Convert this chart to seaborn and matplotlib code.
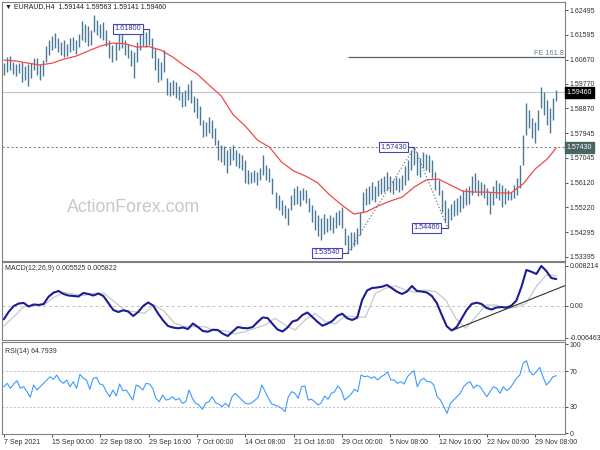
import numpy as np
import matplotlib
matplotlib.use("Agg")
import matplotlib.pyplot as plt
import seaborn as sns

# EURAUD H4 chart, drawn as 8h bars. Prices in pips: 16054 -> 1.6054
highs = [
    16054, 16077, 16080, 16058, 16051, 16054, 16058, 16043, 16051, 16054,
    16073, 16073, 16051, 16065, 16117, 16139, 16154, 16165, 16147, 16132,
    16139, 16125, 16147, 16150, 16139, 16161, 16209, 16198, 16191, 16176,
    16232, 16213, 16198, 16206, 16176, 16139, 16121, 16132, 16169, 16161,
    16139, 16125, 16102, 16095, 16132, 16161, 16173, 16169, 16180, 16147,
    16110, 16073, 16058, 16102, 15999, 15984, 15992, 15984, 15970, 15947,
    15955, 15977, 15992, 15933, 15925, 15896, 15844, 15837, 15855, 15844,
    15815, 15770, 15752, 15748, 15733, 15741, 15752, 15733, 15722, 15715,
    15697, 15660, 15652, 15660, 15652, 15667, 15715, 15678, 15667, 15630,
    15578, 15567, 15549, 15530, 15519, 15567, 15593, 15601, 15586, 15593,
    15586, 15556, 15530, 15512, 15494, 15482, 15497, 15482, 15494, 15486,
    15505, 15512, 15523, 15446, 15420, 15431, 15431, 15446, 15505, 15578,
    15593, 15601, 15615, 15601, 15623, 15630, 15638, 15652, 15638, 15623,
    15634, 15630, 15641, 15674, 15697, 15733, 15743, 15726, 15704, 15726,
    15719, 15715, 15697, 15652, 15623, 15586, 15549, 15519, 15534, 15549,
    15556, 15567, 15586, 15593, 15601, 15638, 15649, 15623, 15615, 15608,
    15593, 15578, 15601, 15623, 15612, 15604, 15593, 15586, 15578, 15604,
    15630, 15678, 15789, 15907, 15881, 15852, 15837, 15881, 15966, 15947,
    15918, 15888, 15925, 15956]
lows = [
    16010, 16021, 16029, 16014, 16006, 16018, 15984, 15992, 15970, 15999,
    16029, 16010, 15992, 16006, 16058, 16084, 16102, 16110, 16095, 16084,
    16077, 16080, 16095, 16102, 16088, 16113, 16139, 16132, 16117, 16121,
    16169, 16158, 16147, 16139, 16117, 16073, 16058, 16065, 16102, 16110,
    16084, 16073, 16043, 15999, 16058, 16102, 16117, 16113, 16121, 16073,
    16029, 15984, 15992, 16021, 15936, 15933, 15936, 15925, 15918, 15892,
    15896, 15918, 15907, 15874, 15852, 15826, 15781, 15785, 15796, 15778,
    15752, 15697, 15689, 15678, 15649, 15678, 15697, 15674, 15667, 15660,
    15612, 15608, 15612, 15615, 15604, 15623, 15641, 15623, 15615, 15571,
    15519, 15512, 15494, 15482, 15457, 15512, 15530, 15534, 15527, 15549,
    15538, 15505, 15468, 15438, 15416, 15401, 15423, 15431, 15438, 15427,
    15446, 15457, 15446, 15383, 15354, 15364, 15379, 15387, 15420, 15505,
    15530, 15534, 15549, 15542, 15564, 15571, 15578, 15586, 15578, 15571,
    15586, 15578, 15586, 15604, 15623, 15660, 15678, 15641, 15634, 15667,
    15660, 15652, 15630, 15586, 15567, 15505, 15468, 15446, 15475, 15490,
    15494, 15505, 15519, 15530, 15534, 15567, 15578, 15564, 15567, 15556,
    15530, 15497, 15530, 15556, 15549, 15523, 15534, 15549, 15549, 15556,
    15567, 15593, 15678, 15789, 15815, 15778, 15759, 15807, 15888, 15863,
    15826, 15796, 15844, 15914]

# moving average
ma_bars = list(range(0, 181, 4)) + [183]
ma_pips = [16065, 16062, 16054, 16047, 16054, 16069, 16080, 16099, 16117, 16128,
           16126, 16113, 16115, 16102, 16076, 16043, 16014, 15973, 15933, 15863,
           15822, 15770, 15744, 15689, 15656, 15637, 15612, 15567, 15530, 15497,
           15505, 15527, 15545, 15560, 15597, 15623, 15626, 15604, 15582, 15578,
           15578, 15575, 15575, 15608, 15663, 15700, 15741]

macd_main = [
    -0.00273, -0.00117, 0.0, 0.00051, 0.00062, -0.0001, 0.00031, 0.00021, 0.00041, 0.00191,
    0.00273, 0.00308, 0.00246, 0.00215, 0.00205, 0.00195, 0.00267, 0.00246, 0.00215, 0.00256,
    0.00205, 0.00062, -0.00082, -0.00123, -0.00088, -0.00113, -0.00205, -0.00123, 0.0, 0.00072,
    0.0001, -0.00154, -0.00297, -0.0041, -0.00441, -0.00457, -0.00441, -0.00472, -0.00359, -0.00431,
    -0.00513, -0.00527, -0.00486, -0.00492, -0.00568, -0.00615, -0.00523, -0.00431, -0.00451, -0.00457,
    -0.00431, -0.00328, -0.00236, -0.00246, -0.00369, -0.00482, -0.00523, -0.00441, -0.00318, -0.00287,
    -0.00185, -0.00133, -0.00226, -0.00322, -0.00404, -0.00363, -0.00308, -0.00205, -0.00158, -0.00252,
    -0.00287, -0.0024, 0.00123, 0.00318, 0.00369, 0.00379, 0.00396, 0.00431, 0.00363, 0.00293,
    0.00246, 0.00297, 0.0041, 0.00308, 0.00297, 0.00277, 0.00205, 0.00062, -0.00185, -0.00416,
    -0.00502, -0.00431, -0.00256, -0.00082, 0.00041, 0.00068, 0.00041, -0.00041, -0.00072, -0.00031,
    -0.00021, -0.00035, 0.0001, 0.00113, 0.0039, 0.00738, 0.00703, 0.00656, 0.0082, 0.00718,
    0.00574, 0.00553]
macd_signal = [
    -0.0041, -0.00219, -0.00014, 0.00021, 0.00021, 0.00178, 0.00281, 0.0024, 0.00219, 0.0026,
    0.0026, 0.00088, -0.00082, -0.00117, -0.0015, 0.00021, -0.00117, -0.00355, -0.00424, -0.00424,
    -0.00424, -0.00506, -0.00506, -0.00574, -0.00527, -0.00457, -0.0039, -0.00252, -0.0039, -0.00492,
    -0.00287, -0.0015, -0.00322, -0.00369, -0.00205, -0.00219, -0.00232, 0.0026, 0.00363, 0.0041,
    0.00328, 0.00281, 0.00328, 0.00293, 0.00123, -0.00252, -0.00457, -0.00219, 0.00021, 0.00021,
    -0.00047, -0.00027, 0.00055, 0.00396, 0.00636, 0.0062]

rsi_vals = [
    52.4, 56.2, 50.6, 55.4, 59.1, 50.6, 52.4, 46.8, 40.5, 54.3,
    48.7, 52.4, 56.2, 59.9, 63.6, 60.7, 65.5, 59.1, 56.2, 59.9,
    52.4, 58.0, 50.6, 66.3, 61.8, 59.9, 49.5, 61.8, 62.9, 55.4,
    54.3, 46.8, 41.2, 48.7, 42.0, 55.4, 47.9, 48.7, 43.1, 37.5,
    54.3, 52.4, 48.7, 56.2, 55.4, 50.6, 39.4, 35.6, 43.1, 37.5,
    38.3, 41.2, 37.5, 39.4, 33.8, 35.6, 48.7, 39.4, 33.8, 31.9,
    27.1, 33.8, 35.6, 41.2, 34.5, 33.0, 30.0, 33.8, 30.0, 41.2,
    45.0, 41.2, 37.5, 33.8, 33.0, 34.5, 37.5, 41.2, 54.3, 46.8,
    39.4, 33.0, 31.9, 30.0, 28.2, 24.4, 41.2,
    46.8, 45.0, 39.4, 52.4, 53.2, 37.5, 38.3, 35.6, 31.9, 34.5,
    42.0, 38.3, 45.0, 46.8, 53.2, 48.7, 37.5, 40.5, 44.2, 49.5,
    46.8, 65.5, 63.6, 64.4, 61.8, 63.6, 59.9, 63.6, 65.5, 69.2,
    59.9, 59.9, 56.2, 58.0, 55.4, 63.6, 67.4, 70.3, 52.4, 59.9,
    61.8, 58.0, 58.0, 54.3, 41.2, 37.5, 30.0, 22.6, 33.8, 37.5,
    41.2, 45.0, 52.4, 56.2, 58.0, 50.6, 54.3, 52.4, 46.8, 41.2,
    46.8, 52.4, 50.6, 45.0, 52.4, 47.9, 50.6, 56.2, 61.8, 65.5,
    78.6, 81.5, 69.2, 65.5, 69.2, 74.1, 63.6, 54.3, 58.0, 63.6, 64.8]

price_ticks = [1.62495, 1.61595, 1.60670, 1.59770, 1.58870, 1.57945,
               1.57045, 1.56120, 1.55220, 1.54295, 1.53395]
date_labels = ['7 Sep 2021', '15 Sep 00:00', '22 Sep 08:00', '29 Sep 16:00',
               '7 Oct 00:00', '14 Oct 08:00', '21 Oct 16:00', '29 Oct 00:00',
               '5 Nov 08:00', '12 Nov 16:00', '22 Nov 00:00', '29 Nov 08:00']

# swing points labelled on the chart (bar index, price)
swings = [(48, 1.61800), (114, 1.53540), (136, 1.57430), (147, 1.54460)]
zigzag_bars = [114, 136, 147]
zigzag_prices = [1.53540, 1.57430, 1.54460]
fe_level = 1.6075
last_close = 1.59460
support = 1.57430
macd_trend_bars = [149, 186]
macd_trend_vals = [-0.0049, 0.0042]

sns.set_style("white")
plt.rcParams['font.family'] = ['Liberation Sans', 'DejaVu Sans']
plt.rcParams['axes.edgecolor'] = '#808080'
plt.rcParams['axes.linewidth'] = 0.8

W, H = 600, 450
fig = plt.figure(figsize=(6, 4.5), dpi=100)


def panel(top, bottom):
    return fig.add_axes([2 / W, 1 - bottom / H, 563 / W, (bottom - top) / H])


ax = panel(2, 261)
ax_macd = panel(262, 340)
ax_rsi = panel(342, 434)
xlim = (-0.6, 185.9)
txt_col = '#303030'

# ---- price panel
idx = np.arange(len(highs))
ax.text(0.233, 0.208, 'ActionForex.com', transform=ax.transAxes, fontsize=12.8,
        color='#c8c8c8', ha='center', va='center', zorder=0)
ax.hlines(last_close, *xlim, color='#c4c4c4', lw=0.8, zorder=1)
ax.hlines(support, *xlim, color='#7f8c8c', lw=0.8, linestyles=(0, (2, 2)), zorder=1)
ax.hlines(fe_level, zigzag_bars[0], xlim[1], color='#52646e', lw=0.9, zorder=1)
ax.text(xlim[1] - 0.3, fe_level + 0.0002, 'FE 161.8', ha='right', va='bottom',
        fontsize=5.3, color='#6f7f8a')
ax.vlines(idx, np.array(lows) / 1e4, np.array(highs) / 1e4, color='#4a7995', lw=1.0, zorder=2)
sns.lineplot(x=ma_bars, y=np.array(ma_pips) / 1e4, ax=ax, color='#f24a4a', lw=0.9, zorder=3)
sns.lineplot(x=zigzag_bars, y=zigzag_prices, ax=ax, color='#7a7a7a', lw=0.9,
             linestyle=':', sort=False, zorder=3)
for bar, price in swings:
    ax.plot([bar - 2.5, bar], [price, price], color='#3c3ca0', lw=0.8, zorder=4)
    ax.text(bar - 2.5, price, f'{price:.5f}', ha='right', va='center', fontsize=5.3,
            color='#3232a0', zorder=5,
            bbox=dict(boxstyle='square,pad=0.2', fc='white', ec='#4646b4', lw=0.8))
ax.set_xlim(*xlim)
ax.set_ylim(1.53238, 1.62795)
ax.set_xticks([])
ax.set_yticks(price_ticks)
ax.set_yticklabels([f'{p:.5f}' for p in price_ticks])
ytr = ax.get_yaxis_transform()
ax.text(1.003, last_close, f'{last_close:.5f}', transform=ytr, ha='left', va='center',
        fontsize=5, color='white', clip_on=False, zorder=6,
        bbox=dict(boxstyle='square,pad=0.3', fc='black', ec='black'))
ax.text(1.003, support, f'{support:.5f}', transform=ytr, ha='left', va='center',
        fontsize=5, color='white', clip_on=False, zorder=6,
        bbox=dict(boxstyle='square,pad=0.3', fc='#4a6464', ec='#4a6464'))
fig.text(5 / W, 1 - 7 / H, '\u25bc EURAUD,H4  1.59144 1.59563 1.59141 1.59460',
         fontsize=5, color='#202020', va='center', ha='left')

# ---- MACD panel
macd_x = np.linspace(0, 183, len(macd_main))
sig_x = np.linspace(0, 183, len(macd_signal))
ax_macd.axhline(0, color='#c0c0c0', lw=0.7, ls=(0, (3, 3)))
sns.lineplot(x=sig_x, y=macd_signal, ax=ax_macd, color='#c9c9c9', lw=0.9)
sns.lineplot(x=macd_x, y=macd_main, ax=ax_macd, color='#1c1c96', lw=1.5)
sns.lineplot(x=macd_trend_bars, y=macd_trend_vals, ax=ax_macd, color='#303030', lw=0.8)
ax_macd.set_xlim(*xlim)
ax_macd.set_ylim(-0.00697, 0.00902)
ax_macd.set_xticks([])
ax_macd.set_yticks([0.008214, 0.0, -0.006463])
ax_macd.set_yticklabels(['0.008214', '0.00', '-0.006463'])
ax_macd.text(0.006, 0.923, 'MACD(12,26,9) 0.005525 0.005822', transform=ax_macd.transAxes,
             fontsize=5, color=txt_col, va='center')

# ---- RSI panel
rsi_x = np.linspace(0, 183, len(rsi_vals))
for lvl in (70, 30):
    ax_rsi.axhline(lvl, color='#c0c0c0', lw=0.7, ls=(0, (2, 2)))
sns.lineplot(x=rsi_x, y=rsi_vals, ax=ax_rsi, color='#3d9bff', lw=0.8)
ax_rsi.set_xlim(*xlim)
ax_rsi.set_ylim(-0.6, 102.5)
ax_rsi.set_yticks([100, 70, 30, 0])
ax_rsi.set_yticklabels(['100', '70', '30', '0'])
ax_rsi.set_xticks(np.arange(0, 16 * len(date_labels), 16))
ax_rsi.set_xticklabels(date_labels, ha='left')
ax_rsi.text(0.006, 0.902, 'RSI(14) 64.7939', transform=ax_rsi.transAxes,
            fontsize=5, color=txt_col, va='center')

for a in (ax, ax_macd, ax_rsi):
    a.set_xlabel('')
    a.set_ylabel('')
    a.yaxis.tick_right()
    a.tick_params(axis='y', right=True, left=False, labelright=True, labelleft=False,
                  length=2, width=0.6, pad=1.5, labelsize=5, colors=txt_col)
ax_rsi.tick_params(axis='x', bottom=True, length=2, width=0.6, pad=1.5,
                   labelsize=5, colors=txt_col)

fig.savefig('out.png', dpi=100, facecolor='white')
